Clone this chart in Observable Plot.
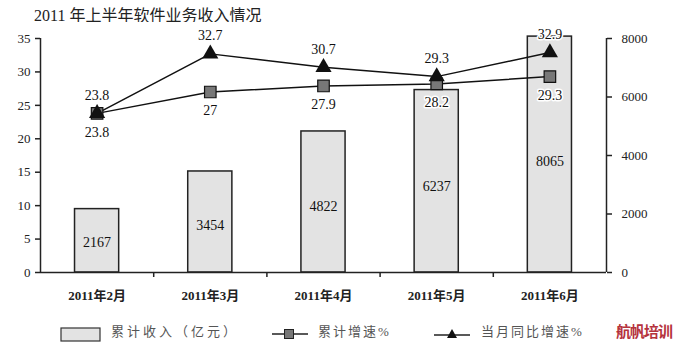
<!DOCTYPE html>
<html><head><meta charset="utf-8">
<script src="https://cdn.jsdelivr.net/npm/d3@7"></script>
<script src="https://cdn.jsdelivr.net/npm/@observablehq/plot@0.6"></script>
<style>
body{margin:0;background:#fff;font-family:"Liberation Serif","Noto Sans CJK SC",serif;}
#wrap{position:relative;width:673px;height:350px;overflow:hidden;}
#title{position:absolute;left:34px;top:2px;font-size:16px;color:#222;white-space:nowrap;}
#chart{position:absolute;left:0;top:22px;}
.lg{position:absolute;top:322px;font-size:13px;color:#555;letter-spacing:2px;white-space:nowrap;line-height:20px;}
#wm{position:absolute;left:616px;top:320px;font-size:15px;font-weight:bold;color:#b5323c;letter-spacing:-1px;font-family:"Noto Sans CJK SC",sans-serif;}
</style></head>
<body>
<div id="wrap">
<div id="title">2011 年上半年软件业务收入情况</div>
<div id="chart"></div>
<svg style="left:60px;top:327px;width:42px;height:16px;position:absolute"><rect x="1" y="1" width="39" height="13" fill="#e3e3e3" stroke="#333" stroke-width="1.2"/></svg>
<div class="lg" style="left:111px;letter-spacing:3px;">累计收入（亿元）</div>
<svg style="left:270px;top:326px;width:40px;height:16px;position:absolute"><line x1="2" y1="8" x2="38" y2="8" stroke="#222" stroke-width="1.5"/><rect x="14.5" y="3.5" width="9" height="9" fill="#777" stroke="#222" stroke-width="1"/></svg>
<div class="lg" style="left:318px;">累计增速%</div>
<svg style="left:432px;top:326px;width:40px;height:16px;position:absolute"><line x1="2" y1="9" x2="38" y2="9" stroke="#222" stroke-width="1.5"/><polygon points="20,3 25,12 15,12" fill="#111"/></svg>
<div class="lg" style="left:481px;">当月同比增速%</div>
<div id="wm">航帆培训</div>
</div>
<script>
const months = ["2011年2月","2011年3月","2011年4月","2011年5月","2011年6月"];
const revenue = [2167, 3454, 4822, 6237, 8065];
const cumGrowth = [23.8, 27, 27.9, 28.2, 29.3];
const monthGrowth = [23.8, 32.7, 30.7, 29.3, 32.9];
const leftTicks = [0, 5, 10, 15, 20, 25, 30, 35];
const rightTicks = [0, 2000, 4000, 6000, 8000];

const k = 35 / 8000;
const data = months.map((m, i) => ({i, m, rev: revenue[i], cum: cumGrowth[i], mon: monthGrowth[i]}));
const cx = d => d.i + 0.5;
const font = "Liberation Serif, Noto Sans CJK SC, serif";

const chart = Plot.plot({
  width: 673, height: 288,
  marginLeft: 40, marginRight: 67, marginTop: 16, marginBottom: 38,
  style: {fontFamily: font, fontSize: "13px", color: "#222", background: "#fff", overflow: "visible"},
  x: {type: "linear", domain: [0, 5]},
  y: {domain: [0, 35]},
  marks: [
    Plot.rectY(data, {x1: d => d.i + 0.305, x2: d => d.i + 0.695, y: d => d.rev * k, fill: "#e3e3e3", stroke: "#222", strokeWidth: 1.5}),
    Plot.text(data, {x: cx, y: d => d.rev * k * 0.47, text: d => String(d.rev), fontSize: 14, fill: "#111"}),
    Plot.ruleX([0], {y1: 0, y2: 35, stroke: "#222", strokeWidth: 1.5}),
    Plot.ruleX([5], {y1: 0, y2: 35, stroke: "#222", strokeWidth: 1.5}),
    Plot.ruleY([0], {stroke: "#222", strokeWidth: 1.5}),
    Plot.axisY({anchor: "left", ticks: leftTicks, tickSize: 5, tickPadding: 5, fontSize: 13, label: null, strokeWidth: 1.5}),
    Plot.axisY({anchor: "right", ticks: rightTicks.map(v => v * k), tickFormat: v => String(Math.round(v / k)), tickSize: 5, tickPadding: 10, fontSize: 13, label: null, strokeWidth: 1.5}),
    Plot.axisX({ticks: months.map((m, i) => i + 0.5), tickFormat: v => months[Math.floor(v)], tickSize: 0, tickPadding: 18, fontSize: 13, fontWeight: "bold", label: null}),
    Plot.axisX({ticks: [1, 2, 3, 4], tickFormat: () => "", tickSize: 5, strokeWidth: 1.5, label: null}),
    Plot.line(data, {x: cx, y: "mon", stroke: "#111", strokeWidth: 1.5}),
    Plot.line(data, {x: cx, y: "cum", stroke: "#111", strokeWidth: 1.5}),
    Plot.dot(data, {x: cx, y: "cum", symbol: "square", r: 6.5, fill: "#777", stroke: "#111", strokeWidth: 1.2}),
    Plot.dot(data, {x: cx, y: "mon", symbol: "triangle", r: 6, fill: "#111"}),
    Plot.text(data, {x: cx, y: "mon", text: d => String(d.mon), dy: -18, fontSize: 14, fill: "#111", stroke: "white", strokeWidth: 3}),
    Plot.text(data, {x: cx, y: "cum", text: d => String(d.cum), dy: 19, fontSize: 14, fill: "#111", stroke: "white", strokeWidth: 3})
  ]
});
document.getElementById("chart").appendChild(chart);
</script>
</body></html>
